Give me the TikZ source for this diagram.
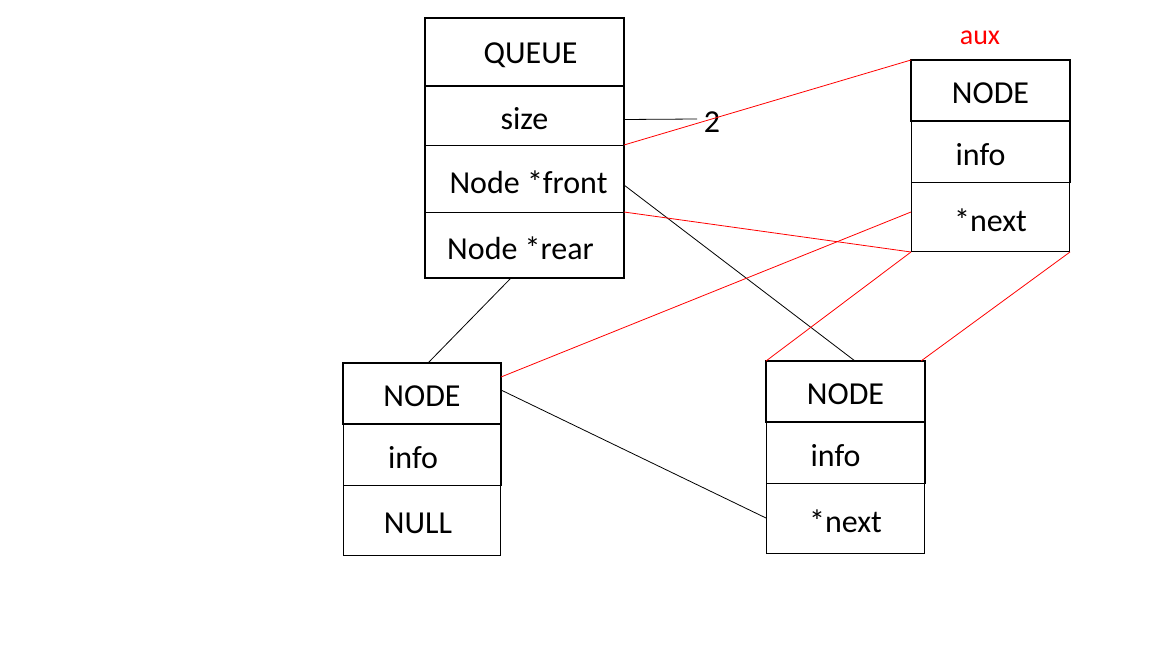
\documentclass[tikz,border=0pt]{standalone}
\usepackage{fontspec}
\setmainfont{Carlito}
\begin{document}
\begin{tikzpicture}[x=1pt,y=-1pt,
  cell/.style={draw=black,line width=1pt,inner sep=0pt,anchor=north west,minimum width=158pt},
  txt/.style={font=\fontsize{32}{36}\selectfont,inner sep=0pt,yshift=-3pt},
  heavy/.style={draw=black,line width=2.5pt},
  blk/.style={draw=black,line width=0.8pt},
  redl/.style={draw=red,line width=0.8pt}]
\useasboundingbox[fill=white] (0,0) rectangle (1152,648);

% QUEUE record
\node[cell,minimum width=198pt,minimum height=67pt] (qhead)  at (425,18)  {};
\node[cell,minimum width=198pt,minimum height=60pt] (qsize)  at (425,85)  {};
\node[cell,minimum width=198pt,minimum height=67pt] (qfront) at (425,145) {};
\node[cell,minimum width=198pt,minimum height=65pt] (qrear)  at (425,212) {};
\draw[heavy] (qhead.north west) rectangle (qrear.south east);
\draw[heavy] (qhead.south west) -- (qhead.south east);
\node[txt] (tq)  at ([xshift=6]qhead.center)   {QUEUE};
\node[txt] (ts)  at ([xshift=0]qsize.center)   {size};
\node[txt] (tf)  at ([xshift=4]qfront.center)  {Node *front};
\node[txt] (tr)  at ([xshift=-4]qrear.center)  {Node *rear};

% aux node (top right)
\node[cell,minimum height=60pt] (ahead) at (911,60)  {};
\node[cell,minimum height=62pt] (ainfo) at (911,120) {};
\node[cell,minimum height=69pt] (anext) at (911,182) {};
\draw[heavy] (ahead.north west) rectangle (ahead.south east);
\draw[heavy] (ainfo.north east) -- (ainfo.south east);
\node[txt] (ta1) at (ahead.center) {NODE};
\node[txt] (ta2) at ([xshift=-10]ainfo.center) {info};
\node[txt] (ta3) at (anext.center) {*next};
\node[txt,text=red,font=\fontsize{28}{32}\selectfont] (taux) at (980,35) {aux};

% node holding NULL (bottom left)
\node[cell,minimum width=157pt,minimum height=60pt] (lhead) at (343,363) {};
\node[cell,minimum width=157pt,minimum height=62pt] (linfo) at (343,423) {};
\node[cell,minimum width=157pt,minimum height=70pt] (lnull) at (343,485) {};
\draw[heavy] (lhead.north west) rectangle (lhead.south east);
\draw[heavy] (linfo.north east) -- (linfo.south east);
\node[txt] (tl1) at (lhead.center) {NODE};
\node[txt] (tl2) at ([xshift=-9]linfo.center) {info};
\node[txt] (tl3) at ([xshift=-4]lnull.center) {NULL};

% node with *next (bottom right)
\node[cell,minimum height=60pt] (rhead) at (766,361) {};
\node[cell,minimum height=62pt] (rinfo) at (766,421) {};
\node[cell,minimum height=70pt] (rnext) at (766,483) {};
\draw[heavy] (rhead.north west) rectangle (rhead.south east);
\draw[heavy] (rinfo.north east) -- (rinfo.south east);
\node[txt] (tr1) at (rhead.center) {NODE};
\node[txt] (tr2) at ([xshift=-10]rinfo.center) {info};
\node[txt] (tr3) at (rnext.center) {*next};

% size value
\node[txt] (two) at (712,119) {2};
\coordinate (twoend) at (697,119);

% black links
\draw[blk] ([yshift=-4]qsize.east) -- (twoend);
\draw[blk] ([yshift=-40]qfront.north east) -- ([xshift=89]rhead.north west);
\draw[blk] ([xshift=86]qrear.south west) -- ([xshift=85]lhead.north west);
\draw[blk] ([yshift=-27]lhead.north east) -- ([yshift=-35]rnext.north west);

% red links
\draw[redl] (qfront.north east) -- (ahead.north west);
\draw[redl] (qrear.north east) -- (anext.south west);
\draw[redl] ([yshift=-30]anext.north west) -- ([yshift=-14]lhead.north east);
\draw[redl] (anext.south west) -- (rhead.north west);
\draw[redl] (anext.south east) -- ([xshift=-4]rhead.north east);
\end{tikzpicture}
\end{document}
